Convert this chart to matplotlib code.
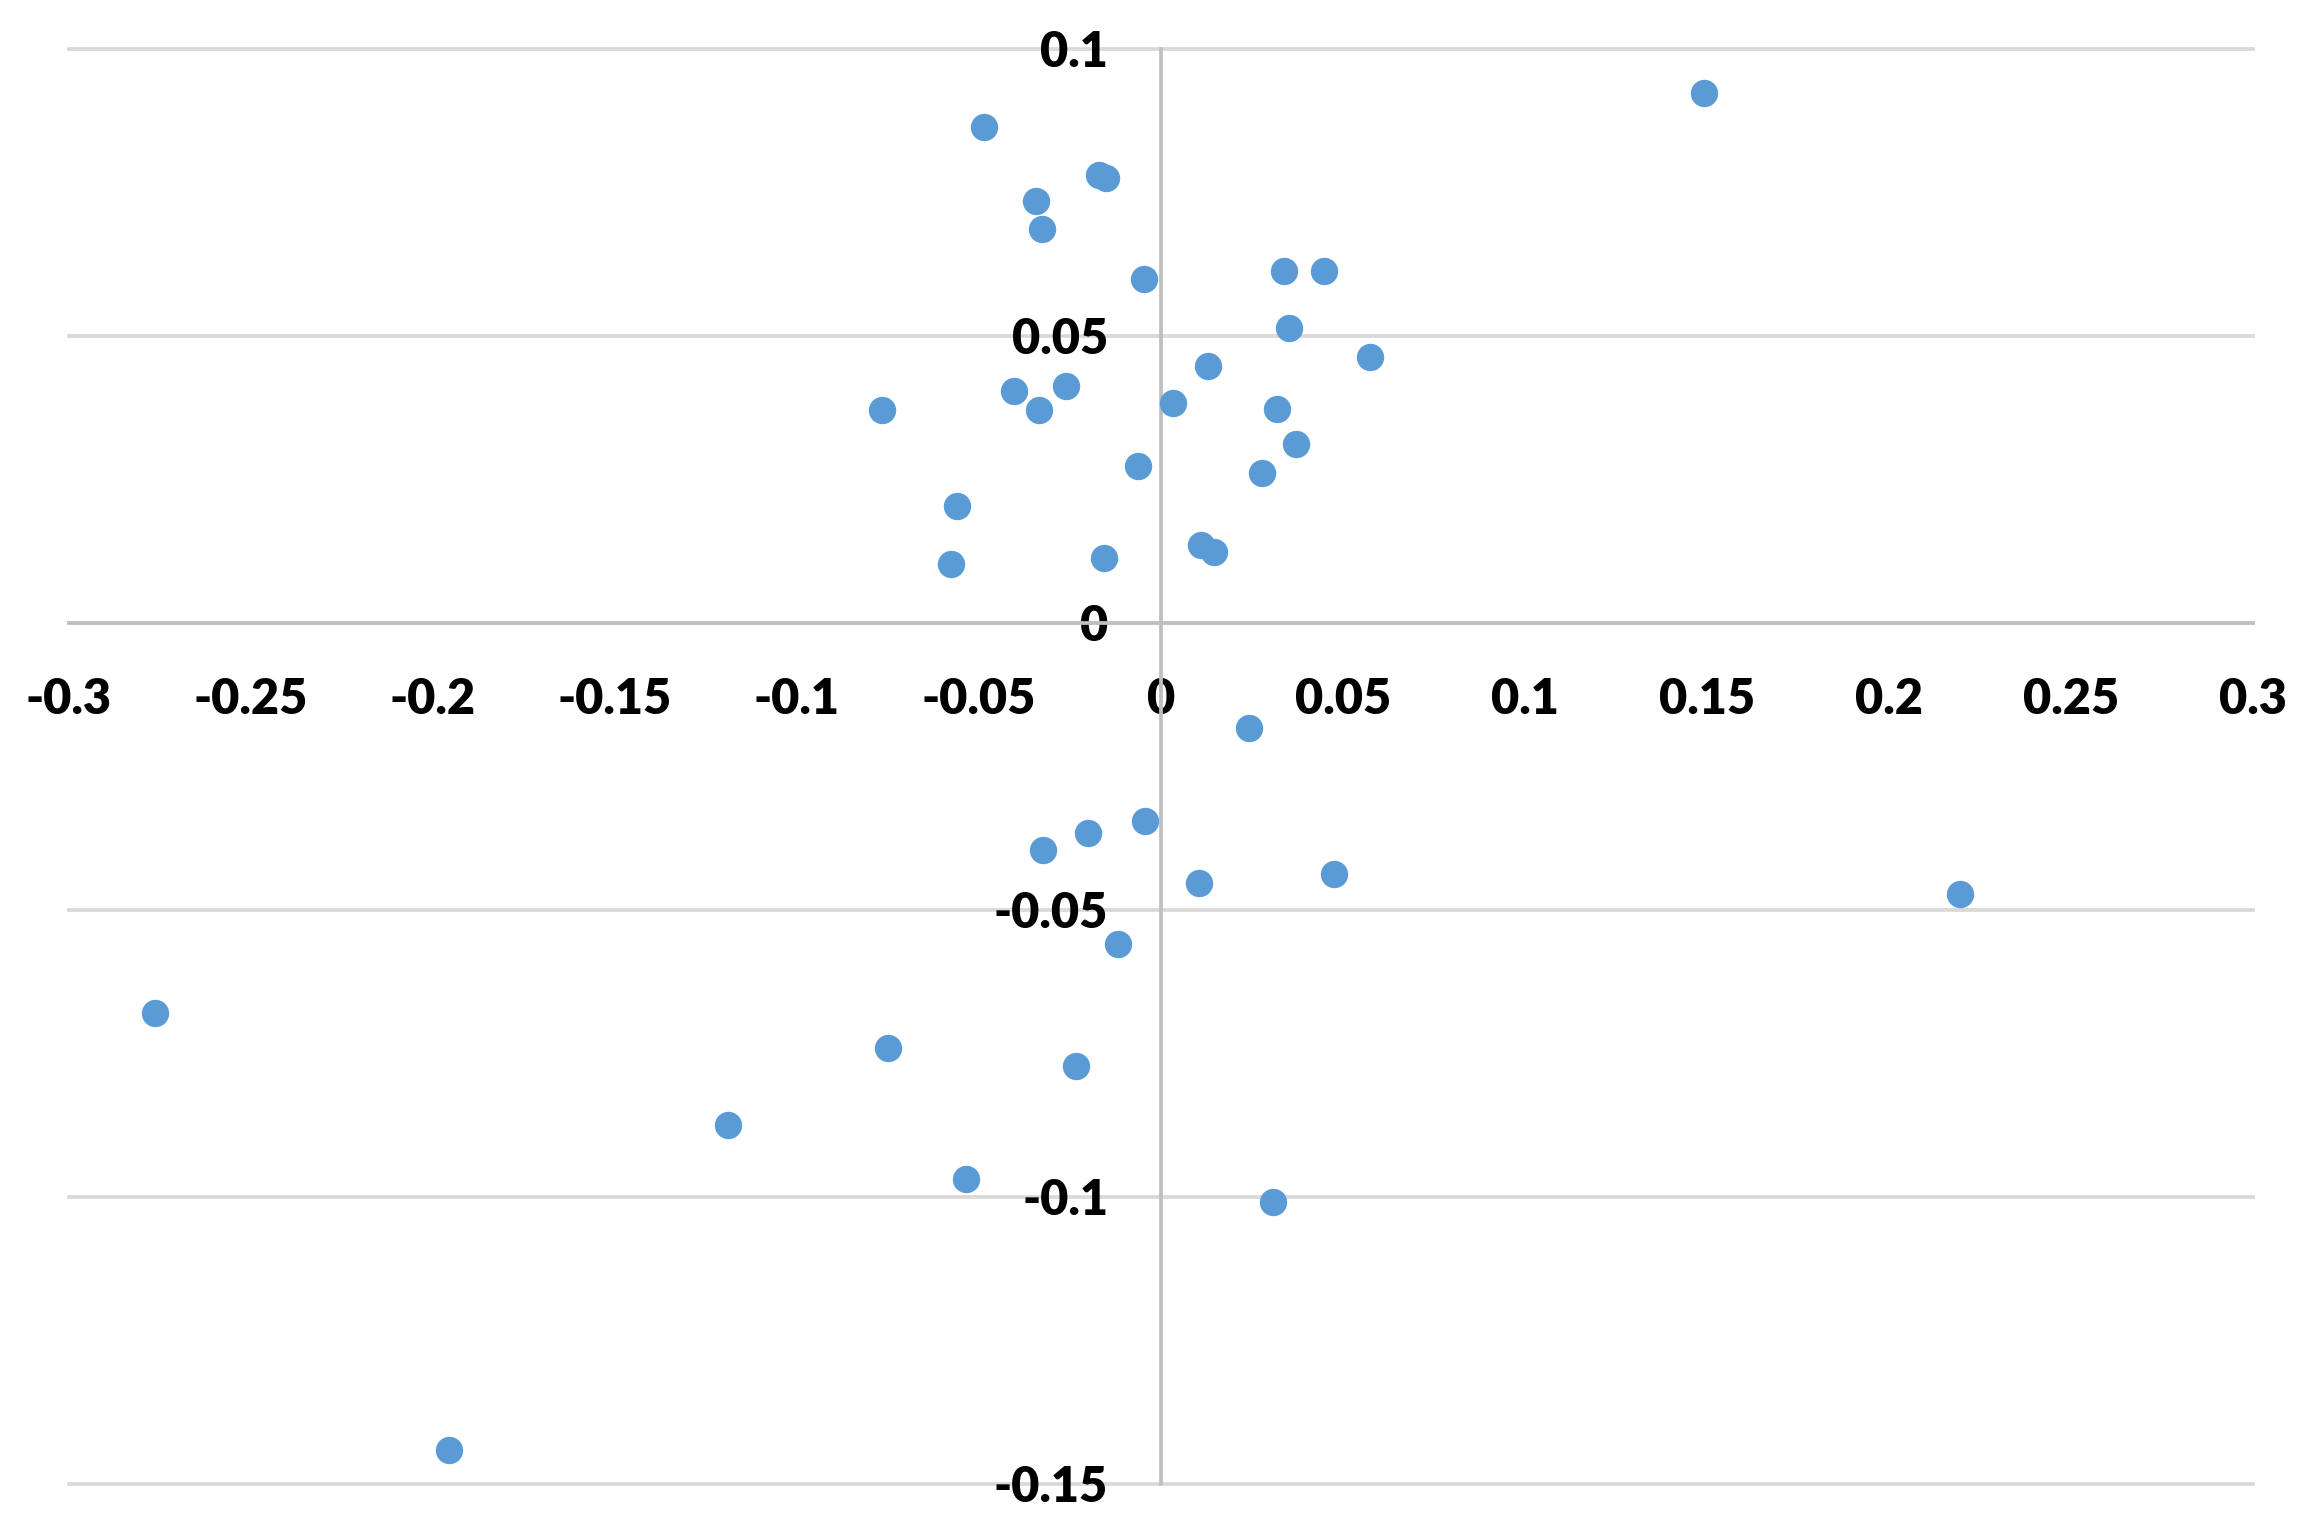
import matplotlib
matplotlib.use("Agg")
import matplotlib.pyplot as plt

# ── Data ──────────────────────────────────────────────────────────────────────

x_vals = [
    0.1491, -0.0486, -0.0171, -0.0152, -0.0343, -0.0327, -0.0046, 0.0337,
    0.0449, 0.0353, 0.0573, 0.0130, -0.0260, -0.0404, -0.0336, 0.0034,
    0.0320, 0.0372, -0.0063, 0.0278, -0.0560, -0.0577, -0.0157, 0.0110,
    0.0146, -0.0766, 0.0241, -0.0043, -0.0200, -0.0324, 0.0105, 0.0476,
    -0.0118, -0.0234, 0.0307, 0.2196, -0.2765, -0.0749, -0.1190, -0.0537,
    -0.1956,
]
y_vals = [
    0.0923, 0.0864, 0.0780, 0.0774, 0.0734, 0.0686, 0.0598, 0.0613,
    0.0613, 0.0514, 0.0463, 0.0447, 0.0413, 0.0403, 0.0371, 0.0382,
    0.0373, 0.0312, 0.0273, 0.0260, 0.0204, 0.0103, 0.0113, 0.0135,
    0.0123, 0.0371, -0.0183, -0.0346, -0.0367, -0.0395, -0.0454, -0.0438,
    -0.0559, -0.0772, -0.1008, -0.0472, -0.0679, -0.0741, -0.0875, -0.0969,
    -0.1441,
]

x_ticks = [-0.3, -0.25, -0.2, -0.15, -0.1, -0.05, 0, 0.05, 0.1, 0.15, 0.2, 0.25, 0.3]
x_tick_labels = ["-0.3", "-0.25", "-0.2", "-0.15", "-0.1", "-0.05", "0",
                 "0.05", "0.1", "0.15", "0.2", "0.25", "0.3"]
y_ticks = [-0.15, -0.1, -0.05, 0, 0.05, 0.1]
y_tick_labels = ["-0.15", "-0.1", "-0.05", "0", "0.05", "0.1"]

# ── Style ─────────────────────────────────────────────────────────────────────

DOT = "#5B9BD5"
GRID = "#D9D9D9"
AXIS = "#BFBFBF"
W, H = 2307, 1528

plt.rcParams["font.family"] = ["Lato", "DejaVu Sans"]
plt.rcParams["font.weight"] = "heavy"

fig = plt.figure(figsize=(W / 100, H / 100), dpi=100)
ax = fig.add_axes([69 / W, 1 - 1484 / H, (2253 - 69) / W, (1484 - 48.6) / H])

ax.plot(x_vals, y_vals, ls="none", marker="o", ms=19.7, color=DOT,
        markeredgewidth=0, zorder=5, clip_on=False)

ax.set_xlim(-0.3, 0.3)
ax.set_ylim(-0.15, 0.1)
ax.set_xticks(x_ticks)
ax.set_xticklabels(x_tick_labels)
ax.set_yticks(y_ticks)
ax.set_yticklabels(y_tick_labels)

for side in ("top", "right"):
    ax.spines[side].set_visible(False)
for side in ("left", "bottom"):
    ax.spines[side].set_position(("data", 0))
    ax.spines[side].set_color(AXIS)
    ax.spines[side].set_linewidth(2.7)
    ax.spines[side].set_zorder(3)

ax.set_axisbelow(True)
ax.grid(axis="y", color=GRID, lw=2.7)
ax.grid(axis="x", visible=False)
for gl in ax.get_ygridlines():
    gl.set_clip_on(False)

ax.tick_params(axis="x", length=0, labelsize=35, pad=39)
ax.tick_params(axis="y", length=0, labelsize=35, pad=38)
for lab in ax.get_xticklabels() + ax.get_yticklabels():
    lab.set_fontweight("heavy")

fig.savefig("out.png", dpi=100)
